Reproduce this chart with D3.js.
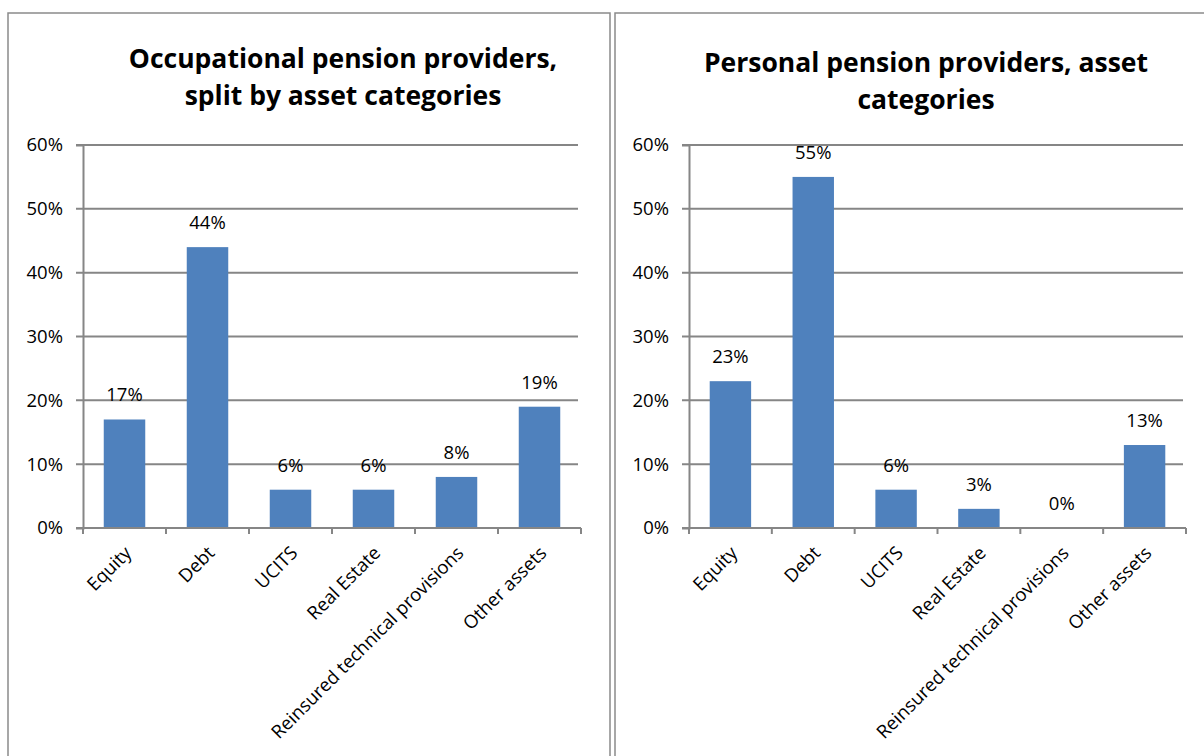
<!DOCTYPE html>
<html>
<head>
<meta charset="utf-8">
<script src="https://cdn.jsdelivr.net/npm/d3@7"></script>
<style>
  body { margin: 0; background: #fff; }
  svg { display: block; font-family: "Open Sans", sans-serif; }
</style>
</head>
<body>
<script>
const categories = ['Equity', 'Debt', 'UCITS', 'Real Estate', 'Reinsured technical provisions', 'Other assets'];
const occupationalValues = [0.17, 0.44, 0.06, 0.06, 0.08, 0.19];
const personalValues = [0.23, 0.55, 0.06, 0.03, 0.00, 0.13];
const yTicks = [0, 0.1, 0.2, 0.3, 0.4, 0.5, 0.6];
const occupationalTitle = ['Occupational pension providers,', 'split by asset categories'];
const personalTitle = ['Personal pension providers, asset', 'categories'];

const barColor = '#4F81BD';
const gridColor = '#868686';

const svg = d3.select('body').append('svg')
  .attr('width', 1204)
  .attr('height', 756);

function drawPanel(cfg) {
  const g = svg.append('g');

  // panel frame
  g.append('rect')
    .attr('x', cfg.frameX)
    .attr('y', 13)
    .attr('width', cfg.frameW)
    .attr('height', 800)
    .attr('fill', 'none')
    .attr('stroke', '#8a8a8a')
    .attr('stroke-width', 1.5);

  g.selectAll('.title')
    .data(cfg.title)
    .enter()
    .append('text')
    .attr('x', cfg.titleX)
    .attr('y', (d, i) => cfg.titleY + i * 37)
    .attr('text-anchor', 'middle')
    .style('font-size', '26.5px')
    .style('font-weight', 'bold')
    .style('fill', '#000')
    .text(d => d);

  const x = d3.scaleBand()
    .domain(categories)
    .range([cfg.left, cfg.right])
    .paddingInner(0.5)
    .paddingOuter(0.25);

  const y = d3.scaleLinear()
    .domain([0, 0.6])
    .range([528, 145]);

  // gridlines
  g.selectAll('.grid')
    .data(yTicks)
    .enter()
    .append('line')
    .attr('x1', cfg.left - 7)
    .attr('x2', cfg.right - 3)
    .attr('y1', d => y(d))
    .attr('y2', d => y(d))
    .attr('stroke', gridColor)
    .attr('stroke-width', 2);

  // y axis
  const yAxis = g.append('g')
    .attr('transform', `translate(${cfg.left},0)`)
    .call(d3.axisLeft(y).tickValues(yTicks).tickFormat(d3.format('.0%')).tickSize(7).tickPadding(13))
    .attr('font-family', null);
  yAxis.select('.domain').attr('stroke', gridColor).attr('stroke-width', 2);
  yAxis.selectAll('.tick line').remove();
  yAxis.selectAll('text').style('font-size', '18.5px').style('fill', '#000');

  // bars
  g.selectAll('.bar')
    .data(cfg.values)
    .enter()
    .append('rect')
    .attr('x', (d, i) => x(categories[i]))
    .attr('y', d => y(d))
    .attr('width', x.bandwidth())
    .attr('height', d => y(0) - y(d))
    .attr('fill', barColor);

  // x axis
  const xAxis = g.append('g')
    .attr('transform', 'translate(0,528)');
  xAxis.append('line')
    .attr('x1', cfg.left)
    .attr('x2', cfg.right)
    .attr('stroke', gridColor)
    .attr('stroke-width', 2);
  const step = x.step();
  xAxis.selectAll('.xtick')
    .data(d3.range(categories.length + 1))
    .enter()
    .append('line')
    .attr('x1', i => cfg.left + i * step)
    .attr('x2', i => cfg.left + i * step)
    .attr('y1', 0)
    .attr('y2', 6)
    .attr('stroke', gridColor)
    .attr('stroke-width', 2);
  xAxis.selectAll('.xlabel')
    .data(categories)
    .enter()
    .append('text')
    .attr('transform', d => `translate(${x(d) + x.bandwidth() / 2 - 1},${17}) rotate(-45)`)
    .attr('text-anchor', 'end')
    .attr('dy', '0.7em')
    .style('font-size', '18.5px')
    .style('fill', '#000')
    .text(d => d);

  // data labels
  g.selectAll('.label')
    .data(cfg.values)
    .enter()
    .append('text')
    .attr('x', (d, i) => x(categories[i]) + x.bandwidth() / 2)
    .attr('y', d => y(d) - 18)
    .attr('text-anchor', 'middle')
    .style('font-size', '18.5px')
    .style('fill', '#000')
    .text(d => d3.format('.0%')(d));
}

drawPanel({
  frameX: 8, frameW: 602,
  title: occupationalTitle, titleX: 343, titleY: 68,
  left: 83, right: 581,
  values: occupationalValues
});

drawPanel({
  frameX: 615, frameW: 602,
  title: personalTitle, titleX: 926, titleY: 72,
  left: 689, right: 1186,
  values: personalValues
});
</script>
</body>
</html>
